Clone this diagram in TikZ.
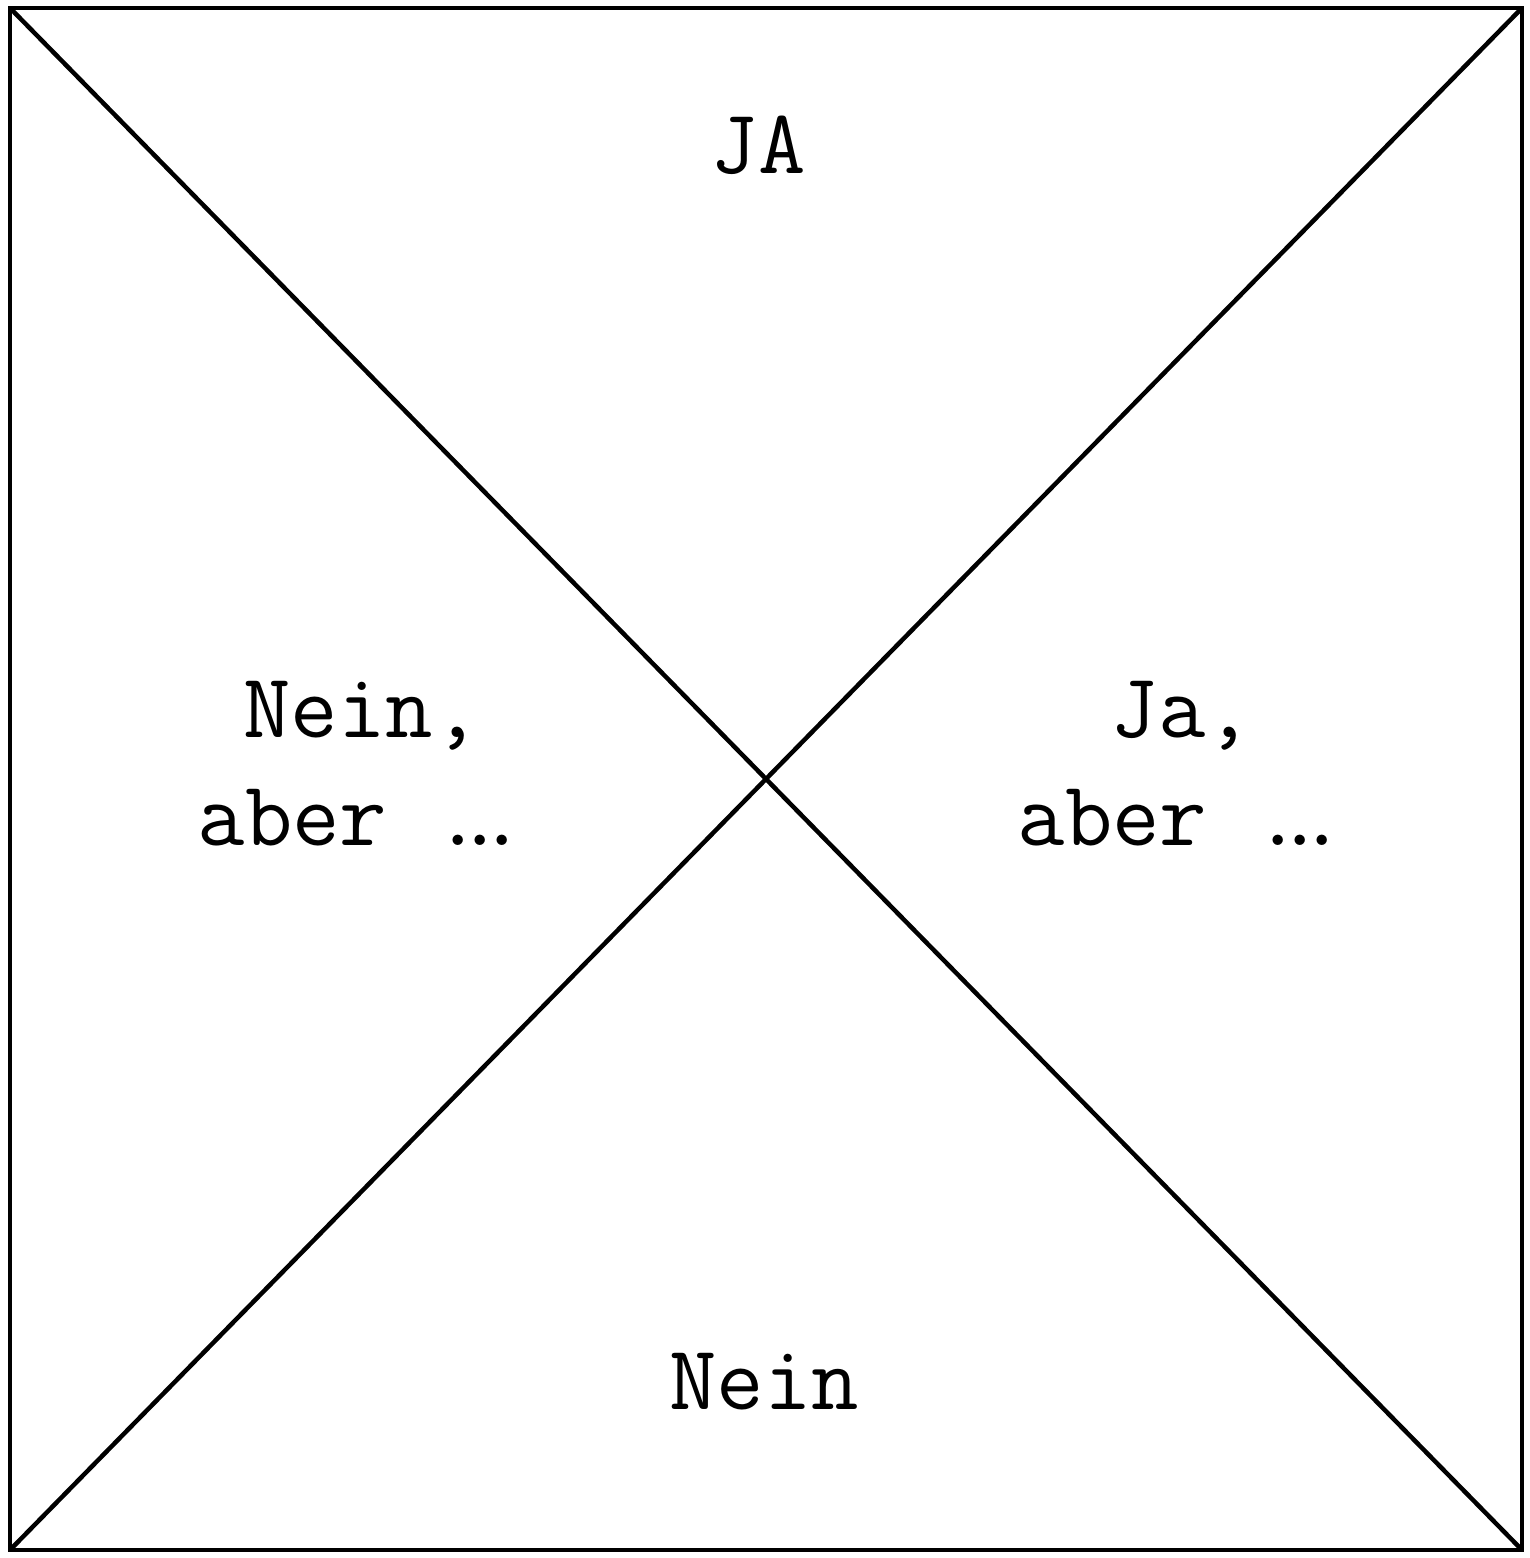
\documentclass[tikz,border=0pt]{standalone}
\usepackage{fontspec}
\usetikzlibrary{positioning}
\newcommand{\tightdots}{.\kern-.275em.\kern-.275em.}

\begin{document}
\begin{tikzpicture}[x=1pt, y=1pt,
  field/.style={align=center, inner sep=0pt,
    font=\ttfamily\fontsize{92}{108}\selectfont},
  frame/.style={line width=4.5pt}]
\useasboundingbox (0,0) rectangle (1529,1558);
% corners of the square
\coordinate (tl) at (10,1550);
\coordinate (tr) at (1522,1550);
\coordinate (bl) at (10,8);
\coordinate (br) at (1522,8);
\draw[frame] (tl) -- (tr) -- (br) -- (bl) -- cycle;
\draw[frame] (tl) -- (br);
\draw[frame] (tr) -- (bl);
% the four fields
\node[field] (top) at (758,1413) {JA};
\node[field] (left) at (362,794) {Nein,\\aber \tightdots};
\node[field] (right) at (1182,794) {Ja,\\aber \tightdots};
\node[field] (bottom) at (764,176) {Nein};
\end{tikzpicture}
\end{document}
